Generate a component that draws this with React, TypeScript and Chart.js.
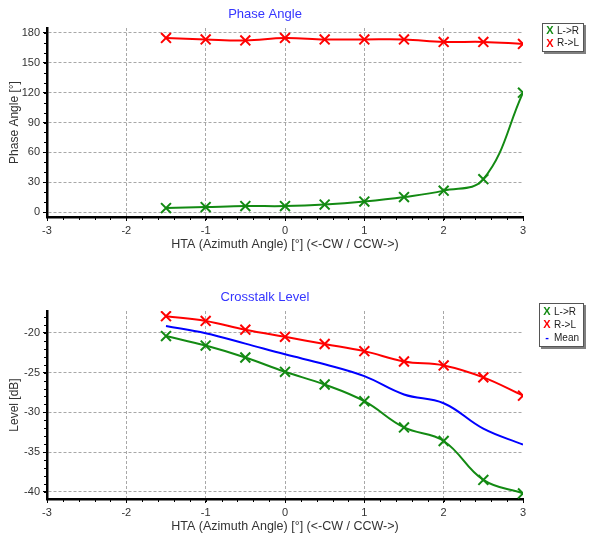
import { useEffect, useRef } from "react";
import { Chart, registerables } from "chart.js";

Chart.register(...registerables);

// ---- data ----
const hta = [-1.5, -1, -0.5, 0, 0.5, 1, 1.5, 2, 2.5, 3];
const phaseLR = [4, 5, 6, 6, 7.5, 10.5, 15, 21.5, 33, 120];
const phaseRL = [175, 173.5, 172.5, 175, 173.5, 173.5, 173.5, 171, 171, 169];
const levelLR = [-20.4, -21.6, -23.1, -24.9, -26.5, -28.6, -31.9, -33.6, -38.5, -40.2];
const levelRL = [-17.9, -18.5, -19.6, -20.5, -21.4, -22.3, -23.6, -24.1, -25.6, -27.9];
const levelMean = [-19.15, -20.05, -21.35, -22.7, -23.95, -25.45, -27.75, -28.85, -32.05, -34.05];

const xTicks = [-3, -2, -1, 0, 1, 2, 3];
const phaseTicks = [0, 30, 60, 90, 120, 150, 180];
const levelTicks = [-40, -35, -30, -25, -20];

const xAxisTitle = "HTA (Azimuth Angle) [°] (<-CW / CCW->)";

const GREEN = "#138a13";
const RED = "#ff0000";
const BLUE = "#0000ff";
const FONT = "'Liberation Sans', Arial, sans-serif";

const decor = {
  id: "decor",
  afterDraw(chart: any, _args: any, o: any) {
    const ctx = chart.ctx as CanvasRenderingContext2D;
    const { left, bottom } = chart.chartArea;
    const xs = chart.scales.x;
    const ys = chart.scales.y;
    ctx.save();
    // minor ticks
    ctx.strokeStyle = "#000";
    ctx.lineWidth = 1;
    ctx.beginPath();
    const xmin = xs.min, xmax = xs.max;
    for (let i = 0; ; i++) {
      const v = xmin + i * o.xMinor;
      if (v > xmax + 1e-9) break;
      const px = Math.round(xs.getPixelForValue(v)) + 0.5;
      ctx.moveTo(px, bottom);
      ctx.lineTo(px, bottom + 3);
    }
    const start = Math.ceil(ys.min / o.yMinor) * o.yMinor;
    for (let v = start; v <= ys.max + 1e-9; v += o.yMinor) {
      const py = Math.round(ys.getPixelForValue(v)) + 0.5;
      ctx.moveTo(left - 3, py);
      ctx.lineTo(left, py);
    }
    ctx.stroke();

    // title
    ctx.font = `13px ${FONT}`;
    ctx.fillStyle = "#3535ff";
    ctx.textAlign = "center";
    ctx.textBaseline = "middle";
    ctx.fillText(o.title, o.titleX, o.titleY);

    // legend box
    const b = o.legendBox;
    ctx.fillStyle = "#808080";
    ctx.fillRect(b.x + 2, b.y + 2, b.w, b.h);
    ctx.fillStyle = "#fff";
    ctx.fillRect(b.x, b.y, b.w, b.h);
    ctx.strokeStyle = "#555";
    ctx.lineWidth = 1;
    ctx.strokeRect(b.x + 0.5, b.y + 0.5, b.w - 1, b.h - 1);
    o.legendItems.forEach((it: any, i: number) => {
      const cy = b.y + b.first + i * b.step;
      ctx.textAlign = "center";
      ctx.textBaseline = "middle";
      ctx.fillStyle = it.color;
      ctx.font = `bold 11px ${FONT}`;
      ctx.fillText(it.kind === "x" ? "X" : "-", b.x + 8, cy);
      ctx.textAlign = "left";
      ctx.fillStyle = "#222";
      ctx.font = `10px ${FONT}`;
      ctx.fillText(it.label, b.x + 15, cy);
    });
    ctx.restore();
  },
};

function series(label: string, ys: number[], color: string, markers: boolean) {
  return {
    label,
    data: hta.map((x, i) => ({ x, y: ys[i] })),
    borderColor: color,
    backgroundColor: color,
    borderWidth: 2,
    tension: 0.4,
    pointStyle: "crossRot",
    pointRadius: markers ? 7 : 0,
    pointBorderWidth: 2,
    pointBorderColor: color,
  };
}

function makeConfig(p: any): any {
  return {
    type: "line",
    data: { datasets: p.datasets },
    options: {
      responsive: false,
      animation: false,
      devicePixelRatio: 1,
      events: [],
      layout: { padding: { top: p.padTop, right: 77, left: 0, bottom: 0 } },
      plugins: {
        legend: { display: false },
        title: { display: false },
        tooltip: { enabled: false },
        decor: {
          title: p.title,
          titleX: 265,
          titleY: p.titleY,
          xMinor: 0.2,
          yMinor: p.yMinor,
          legendBox: p.legendBox,
          legendItems: p.legendItems,
        },
      },
      scales: {
        x: {
          type: "linear",
          min: -3,
          max: 3,
          afterBuildTicks: (s: any) => {
            s.ticks = xTicks.map((v) => ({ value: v }));
          },
          afterFit: (s: any) => {
            s.height = 47;
          },
          grid: {
            color: (c: any) => (c.tick && (c.tick.value === 3 || c.tick.value === -3) ? "rgba(0,0,0,0)" : "#a8a8a8"),
            lineWidth: 1,
            drawTicks: true,
            tickLength: 4,
            tickColor: "#000",
            tickWidth: 1,
          },
          border: { display: true, color: "#000", width: 2.5, dash: [3, 2] },
          ticks: {
            font: { family: FONT, size: 11 },
            color: "#333",
            padding: 3,
            maxRotation: 0,
            autoSkip: false,
          },
          title: {
            display: true,
            text: xAxisTitle,
            font: { family: FONT, size: 12.5 },
            color: "#333",
            padding: { top: 0, bottom: 11.5 },
          },
        },
        y: {
          type: "linear",
          min: p.yMin,
          max: p.yMax,
          afterBuildTicks: (s: any) => {
            s.ticks = p.yTicks.map((v: number) => ({ value: v }));
          },
          afterFit: (s: any) => {
            s.width = 47;
          },
          grid: {
            color: "#a8a8a8",
            lineWidth: 1,
            drawTicks: true,
            tickLength: 4,
            tickColor: "#000",
            tickWidth: 1,
          },
          border: { display: true, color: "#000", width: 2.5, dash: [3, 2] },
          ticks: {
            font: { family: FONT, size: 11 },
            color: "#333",
            padding: 3,
            autoSkip: false,
          },
          title: {
            display: true,
            text: p.yTitle,
            font: { family: FONT, size: 12 },
            color: "#333",
            padding: { top: 7, bottom: 0 },
          },
        },
      },
    },
    plugins: [decor],
  };
}

export default function App() {
  const topRef = useRef<HTMLCanvasElement>(null);
  const botRef = useRef<HTMLCanvasElement>(null);

  useEffect(() => {
    const c1 = new Chart(
      topRef.current as HTMLCanvasElement,
      makeConfig({
        datasets: [series("L->R", phaseLR, GREEN, true), series("R->L", phaseRL, RED, true)],
        padTop: 28,
        title: "Phase Angle",
        titleY: 14,
        yTitle: "Phase Angle [°]",
        yMin: -5,
        yMax: 185,
        yTicks: phaseTicks,
        yMinor: 10,
        legendBox: { x: 542, y: 23, w: 42, h: 29, first: 8, step: 12.5 },
        legendItems: [
          { label: "L->R", color: GREEN, kind: "x" },
          { label: "R->L", color: RED, kind: "x" },
        ],
      })
    );
    const c2 = new Chart(
      botRef.current as HTMLCanvasElement,
      makeConfig({
        datasets: [
          series("L->R", levelLR, GREEN, true),
          series("R->L", levelRL, RED, true),
          series("Mean", levelMean, BLUE, false),
        ],
        padTop: 47,
        title: "Crosstalk Level",
        titleY: 33,
        yTitle: "Level [dB]",
        yMin: -40.9,
        yMax: -17.25,
        yTicks: levelTicks,
        yMinor: 1,
        legendBox: { x: 539, y: 39, w: 45, h: 44, first: 9, step: 13 },
        legendItems: [
          { label: "L->R", color: GREEN, kind: "x" },
          { label: "R->L", color: RED, kind: "x" },
          { label: "Mean", color: BLUE, kind: "dash" },
        ],
      })
    );
    return () => {
      c1.destroy();
      c2.destroy();
    };
  }, []);

  return (
    <div style={{ position: "absolute", left: 0, top: 0, width: 600, height: 546, background: "#fff" }}>
      <canvas ref={topRef} width={600} height={264} style={{ display: "block", width: 600, height: 264 }} />
      <canvas ref={botRef} width={600} height={282} style={{ display: "block", width: 600, height: 282 }} />
    </div>
  );
}
